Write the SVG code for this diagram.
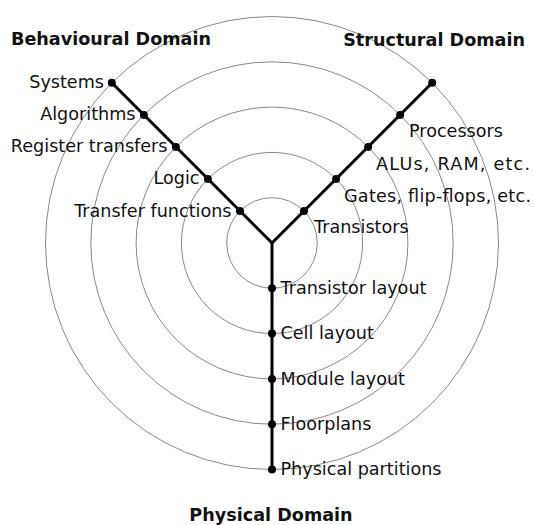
<svg xmlns="http://www.w3.org/2000/svg" width="534" height="525" viewBox="0 0 534 525">
<style>
.ring{fill:none;stroke:#888;stroke-width:1}
.axis{fill:none;stroke:#000;stroke-width:3;stroke-linecap:round}
.dot{fill:#000}
text{font-family:"DejaVu Sans","Liberation Sans",sans-serif;font-size:17.6px;fill:#111}
.title{font-weight:bold}
.l{text-anchor:end}
.m{text-anchor:middle}
</style>
<rect width="534" height="525" fill="#fff"/>
<g id="rings">
<circle class="ring" cx="272" cy="243" r="45.3"/>
<circle class="ring" cx="272" cy="243" r="90.6"/>
<circle class="ring" cx="272" cy="243" r="135.9"/>
<circle class="ring" cx="272" cy="243" r="181.2"/>
<circle class="ring" cx="272" cy="243" r="226.5"/>
</g>
<g id="connectors">
<line class="axis" x1="272" y1="243" x2="111.8" y2="82.8"/>
<line class="axis" x1="272" y1="243" x2="432.2" y2="82.8"/>
<line class="axis" x1="272" y1="243" x2="272" y2="469.5"/>
</g>
<g id="behavioural">
<text class="title" x="11" y="45">Behavioural Domain</text>
<circle class="dot" cx="111.8" cy="82.8" r="4"/>
<circle class="dot" cx="143.9" cy="114.9" r="4"/>
<circle class="dot" cx="175.9" cy="146.9" r="4"/>
<circle class="dot" cx="207.9" cy="178.9" r="4"/>
<circle class="dot" cx="240" cy="211" r="4"/>
<text class="l" x="104" y="88.3">Systems</text>
<text class="l" x="135.5" y="120.4">Algorithms</text>
<text class="l" x="167.5" y="152.4">Register transfers</text>
<text class="l" x="199.5" y="184.4">Logic</text>
<text class="l" x="231.5" y="216.5">Transfer functions</text>
</g>
<g id="structural">
<text class="title l" x="525" y="46">Structural Domain</text>
<circle class="dot" cx="432.2" cy="82.8" r="4"/>
<circle class="dot" cx="400.1" cy="114.9" r="4"/>
<circle class="dot" cx="368.1" cy="146.9" r="4"/>
<circle class="dot" cx="336.1" cy="178.9" r="4"/>
<circle class="dot" cx="304" cy="211" r="4"/>
<text x="409" y="137">Processors</text>
<text x="376" y="170" textLength="154" lengthAdjust="spacing">ALUs, RAM, etc.</text>
<text x="344" y="201.7" textLength="187" lengthAdjust="spacing">Gates, flip-flops, etc.</text>
<text x="314" y="233.3">Transistors</text>
</g>
<g id="physical">
<text class="title m" x="271" y="521">Physical Domain</text>
<circle class="dot" cx="272" cy="288.3" r="4"/>
<circle class="dot" cx="272" cy="333.6" r="4"/>
<circle class="dot" cx="272" cy="378.9" r="4"/>
<circle class="dot" cx="272" cy="424.2" r="4"/>
<circle class="dot" cx="272" cy="469.5" r="4"/>
<text x="280.5" y="294">Transistor layout</text>
<text x="280.5" y="339.3">Cell layout</text>
<text x="280.5" y="384.6">Module layout</text>
<text x="280.5" y="429.9">Floorplans</text>
<text x="280.5" y="475.2">Physical partitions</text>
</g>
</svg>
